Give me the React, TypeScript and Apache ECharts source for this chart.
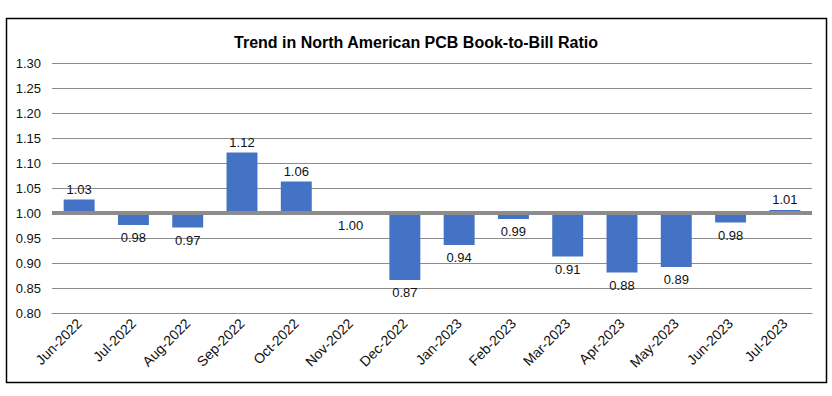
import React, { useEffect, useRef } from "react";
import * as echarts from "echarts";

const categories = [
  "Jun-2022", "Jul-2022", "Aug-2022", "Sep-2022", "Oct-2022", "Nov-2022", "Dec-2022",
  "Jan-2023", "Feb-2023", "Mar-2023", "Apr-2023", "May-2023", "Jun-2023", "Jul-2023",
];
const ratios = [1.027, 0.976, 0.971, 1.121, 1.063, 1.0, 0.866, 0.936, 0.988, 0.913, 0.881, 0.892, 0.981, 1.006];
const baseline = 1.0;
const yTicks = { min: 0.8, max: 1.3, interval: 0.05 };
const title = "Trend in North American PCB Book-to-Bill Ratio";

export default function App() {
  const ref = useRef<HTMLDivElement>(null);
  useEffect(() => {
    if (!ref.current) return;
    const chart = echarts.init(ref.current, null, { renderer: "svg" });
    const font = "Liberation Sans, Arial, sans-serif";
    const baseData = ratios.map((v) => Math.min(v, baseline));
    const deltaData = ratios.map((v) => ({
      value: Math.abs(v - baseline),
      label: {
        position: v > baseline ? "top" : "bottom",
        distance: v > baseline ? 4 : 6,
      },
    }));
    chart.setOption({
      animation: false,
      title: {
        text: title,
        left: "center",
        top: 29,
        textStyle: { fontFamily: font, fontSize: 16, fontWeight: "bold", color: "#000" },
      },
      graphic: [
        {
          type: "rect",
          shape: { x: 6.5, y: 18.5, width: 820, height: 364 },
          style: { fill: "none", stroke: "#000", lineWidth: 1.5 },
          silent: true,
          z: 0,
        },
      ],
      grid: { left: 52, right: 20, top: 63, bottom: 83, containLabel: false },
      xAxis: {
        type: "category",
        data: categories,
        axisLine: { show: true, lineStyle: { color: "#8c8c8c", width: 1 } },
        axisTick: { show: false },
        axisLabel: {
          rotate: 45,
          margin: 8,
          fontFamily: font,
          fontSize: 14,
          color: "#111",
          interval: 0,
        },
      },
      yAxis: {
        type: "value",
        min: yTicks.min,
        max: yTicks.max,
        interval: yTicks.interval,
        axisLine: { show: false },
        axisTick: { show: false },
        splitLine: { lineStyle: { color: "#8c8c8c", width: 1 } },
        axisLabel: {
          formatter: (v: number) => v.toFixed(2),
          fontFamily: font,
          fontSize: 13,
          color: "#111",
          margin: 11,
        },
      },
      series: [
        {
          type: "bar",
          stack: "r",
          data: baseData,
          itemStyle: { color: "transparent" },
          silent: true,
          barWidth: "57%",
        },
        {
          type: "bar",
          stack: "r",
          data: deltaData,
          barWidth: "57%",
          itemStyle: { color: "#4472C4" },
          label: {
            show: true,
            fontFamily: font,
            fontSize: 13,
            color: "#111",
            formatter: (p: any) => ratios[p.dataIndex].toFixed(2),
          },
          markLine: {
            silent: true,
            symbol: "none",
            label: { show: false },
            lineStyle: { color: "#8c8c8c", width: 4, type: "solid" },
            data: [{ yAxis: baseline }],
          },
        },
      ],
    });
    return () => chart.dispose();
  }, []);
  return (
    <div
      ref={ref}
      style={{ position: "fixed", left: 0, top: 0, width: 832, height: 396, background: "#fff" }}
    />
  );
}
